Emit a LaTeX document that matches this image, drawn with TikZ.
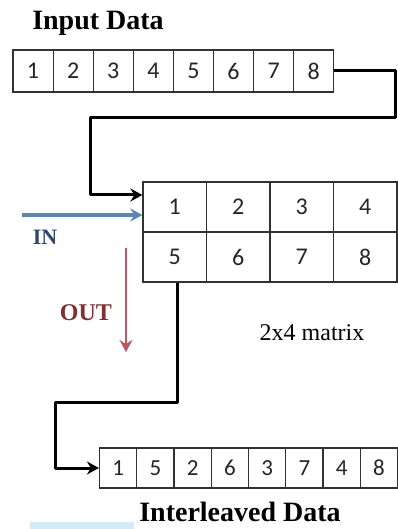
\documentclass[tikz,border=0pt]{standalone}
\usepackage{fontspec}
\setmainfont{Liberation Serif}
\newfontfamily\digitfont{Carlito}
\usetikzlibrary{arrows.meta,calc}
\definecolor{inblue}{RGB}{88,136,184}
\definecolor{intext}{RGB}{45,72,110}
\definecolor{outred}{RGB}{188,86,96}
\definecolor{outtext}{RGB}{128,48,48}
\definecolor{cellline}{RGB}{50,50,50}
\definecolor{barblue}{RGB}{214,235,248}
\begin{document}
\begin{tikzpicture}[x=1pt,y=-1pt,
  cellbase/.style={draw=cellline,line width=1.2pt,inner sep=0pt,text=black!85},
  cellA/.style={cellbase,minimum width=40.1pt,minimum height=42pt,font=\digitfont\fontsize{24}{24}\selectfont},
  cellM/.style={cellbase,minimum width=63.5pt,minimum height=50pt,font=\digitfont\fontsize{24}{24}\selectfont},
  cellB/.style={cellbase,minimum width=37.25pt,minimum height=40pt,font=\digitfont\fontsize{23}{23}\selectfont},
  conn/.style={line width=3pt,black,line join=round,-{Stealth[length=12pt,width=13pt,inset=4pt]}},
  bluearrow/.style={line width=3.5pt,inblue,-{Stealth[length=12pt,width=13pt,inset=4pt]}},
  redarrow/.style={line width=2.5pt,outred,-{Stealth[length=12pt,width=13pt,inset=4pt]}},
  title/.style={font=\bfseries\fontsize{28}{28}\selectfont},
  lbl/.style={font=\bfseries\fontsize{#1}{#1}\selectfont}
]
\useasboundingbox (0,0) rectangle (398,529);
\fill[white] (0,0) rectangle (398,529);
\fill[barblue] (30,522) rectangle (134,529);

% titles
\node[title] (tin) at (98,23) {Input Data};
\node[title] (tout) at (240,512) {Interleaved Data};

% input array
\foreach \v [count=\i] in {1,2,3,4,5,6,7,8}
  \node[cellA] (in\i) at ({13+40.1*(\i-0.5)},71) {\v};

% matrix
\foreach \r in {1,2}
  \foreach \c in {1,2,3,4}{
    \pgfmathtruncatemacro{\val}{(\r-1)*4+\c}
    \node[cellM] (m\r\c) at ({143+63.5*(\c-0.5)},{182+50*(\r-0.5)}) {\val};
  }

% interleaved array
\foreach \v [count=\i] in {1,5,2,6,3,7,4,8}
  \node[cellB] (o\i) at ({99.5+37.25*(\i-0.5)},468) {\v};

% connector input -> matrix
\coordinate (a1) at (395,118);
\coordinate (a2) at (90,195);
\draw[conn] (in8.east) -| (a1) -| (a2) -- (a2 -| m11.west);

% connector matrix -> interleaved
\coordinate (b0) at ($(m21.south)+(3,0)$);
\coordinate (b1) at (55,402);
\draw[conn] (b0) |- (b1) |- (o1.west);

% IN arrow
\coordinate (inS) at (22,215);
\draw[bluearrow] (inS) -- (inS -| m11.west);
\node[lbl=22,text=intext] (intxt) at (45,237) {IN};

% OUT arrow
\coordinate (outS) at (126,248);
\coordinate (outE) at (126,352);
\draw[redarrow] (outS) -- (outE);
\node[lbl=24,text=outtext] (outtxt) at (86,313) {OUT};

% matrix label
\node[font=\fontsize{24}{24}\selectfont] (mlbl) at (312,333) {2x4 matrix};
\end{tikzpicture}
\end{document}
